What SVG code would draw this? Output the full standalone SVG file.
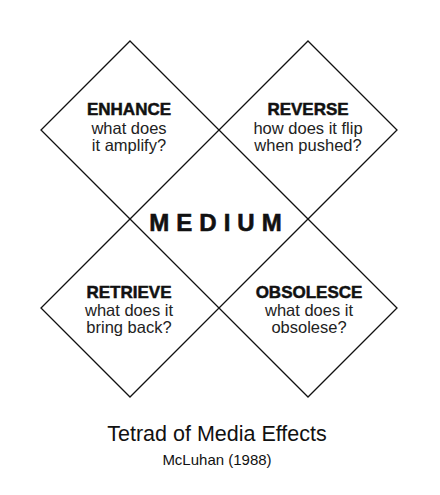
<svg xmlns="http://www.w3.org/2000/svg" width="440" height="495" viewBox="0 0 440 495">
<style>
.d{fill:none;stroke:#111;stroke-width:1.3}
.h{font-family:"Liberation Sans",Arial,sans-serif;font-weight:bold;font-size:17px;fill:#111;text-anchor:middle;stroke:#111;stroke-width:0.5}
.s{font-family:"Liberation Sans",Arial,sans-serif;font-size:16.5px;fill:#222;text-anchor:middle}
</style>
<rect width="440" height="495" fill="#fff"/>
<g id="connectors"></g>
<g id="enhance">
<path class="d" d="M130 41 L219 130 L130 219 L41 130 Z"/>
<text class="h" x="129" y="115">ENHANCE</text>
<text class="s" x="129" y="134">what does</text>
<text class="s" x="129" y="151">it amplify?</text>
</g>
<g id="reverse">
<path class="d" d="M308 41 L397 130 L308 219 L219 130 Z"/>
<text class="h" x="308" y="115">REVERSE</text>
<text class="s" x="308" y="134">how does it flip</text>
<text class="s" x="308" y="151">when pushed?</text>
</g>
<g id="retrieve">
<path class="d" d="M130 219 L219 308 L130 397 L41 308 Z"/>
<text class="h" x="129" y="298">RETRIEVE</text>
<text class="s" x="129" y="316">what does it</text>
<text class="s" x="129" y="333">bring back?</text>
</g>
<g id="obsolesce">
<path class="d" d="M308 219 L397 308 L308 397 L219 308 Z"/>
<text class="h" x="309" y="298">OBSOLESCE</text>
<text class="s" x="309" y="316">what does it</text>
<text class="s" x="309" y="333">obsolese?</text>
</g>
<g id="medium">
<text x="219" y="231" font-family="'Liberation Sans',Arial,sans-serif" font-weight="bold" font-size="24" letter-spacing="7" text-anchor="middle" fill="#111" stroke="#111" stroke-width="0.6">MEDIUM</text>
</g>
<g id="caption">
<text x="217" y="441" font-family="'Liberation Sans',Arial,sans-serif" font-size="21.5" text-anchor="middle" fill="#111">Tetrad of Media Effects</text>
<text x="217" y="465" font-family="'Liberation Sans',Arial,sans-serif" font-size="15" text-anchor="middle" fill="#111">McLuhan (1988)</text>
</g>
</svg>
